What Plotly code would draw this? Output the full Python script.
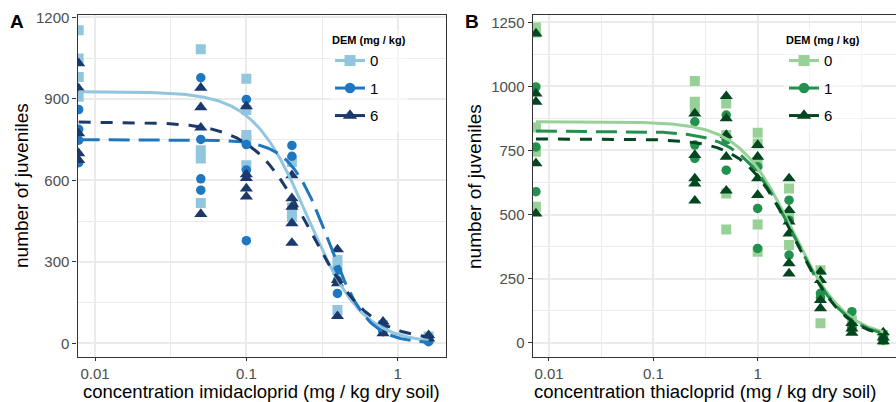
import numpy as np
import plotly.graph_objects as go

FONT = "Liberation Sans, Arial, Helvetica, sans-serif"

# ---------------- data ----------------
dem_levels = ["0", "1", "6"]

# Panel A: imidacloprid (mg/kg dry soil); first value = control, drawn at the left edge
imi_conc = [0.0078, 0.05, 0.1, 0.2, 0.4, 0.8, 1.6]
imi_dem0 = [[1153, 1049, 981, 908], [1083, 711, 681, 517], [974, 859, 767, 750, 656],
            [668, 500, 466], [307, 270, 123], [67, 60], [25, 15]]
imi_dem1 = [[861, 788, 748, 665], [978, 751, 606, 564], [898, 732, 638, 378],
            [729, 689], [270, 232, 184], [43, 55], [18, 6]]
imi_dem6 = [[1031, 938, 773, 700, 675], [941, 869, 794, 476], [873, 622, 608, 570, 540],
            [619, 534, 503, 442, 370], [346, 233, 221, 100], [80, 37], [30, 18]]

# Panel B: thiacloprid
thi_conc = [0.0075, 0.25, 0.5, 1, 2, 4, 8, 16]
thi_dem0 = [[1230, 1210, 840, 745, 530], [1021, 940, 915], [933, 810, 582, 442],
            [819, 777, 699, 461, 355], [602, 490, 381], [283, 76], [88, 60], [30, 10]]
thi_dem1 = [[998, 764, 589], [862, 771, 719], [888, 790, 673], [686, 524, 368],
            [556, 478, 342], [193, 176], [121, 60], [20, 10]]
thi_dem6 = [[1206, 972, 940, 700, 504], [894, 732, 641, 621, 554], [962, 875, 810, 725, 593],
            [771, 725, 641, 576], [641, 517, 472, 426, 310, 270], [277, 244, 166, 134],
            [76, 55, 38], [40, 20, 5]]

# fitted log-logistic dose-response curves (upper, lower, EC50, slope) per DEM level
imi_upper = [927, 750, 815]
imi_lower = [0, 0, 10]
imi_ec50 = [0.255, 0.35, 0.266]
imi_slope = [2.4, 3.4, 2.26]

thi_upper = [862, 826, 795]
thi_lower = [15, 12, 10]
thi_ec50 = [2.15, 2.2, 2.28]
thi_slope = [1.7, 1.75, 1.8]

# ---------------- style ----------------
blues = ["#92C5DE", "#1F78BF", "#1B3A6B"]
greens = ["#98D198", "#22914D", "#03461F"]
symbols = ["square", "circle", "triangle-up"]
msizes = [10, 9.5, 11.5]
dashes = ["solid", "21px,9px", "12px,10px"]


def expand(conc, groups):
    xs, ys = [], []
    for c, vals in zip(conc, groups):
        for v in vals:
            xs.append(c)
            ys.append(v)
    return xs, ys


def ll4(x, upper, lower, ec50, slope):
    return lower + (upper - lower) / (1 + np.exp(slope * (np.log(x) - np.log(ec50))))


fig = go.Figure()

panels = [
    dict(conc=imi_conc, groups=[imi_dem0, imi_dem1, imi_dem6], cols=blues,
         up=imi_upper, lo=imi_lower, e=imi_ec50, b=imi_slope, xa="x", ya="y", leg="legend"),
    dict(conc=thi_conc, groups=[thi_dem0, thi_dem1, thi_dem6], cols=greens,
         up=thi_upper, lo=thi_lower, e=thi_ec50, b=thi_slope, xa="x2", ya="y2", leg="legend2"),
]

for p in panels:
    for i, g in enumerate(p["groups"]):
        xs, ys = expand(p["conc"], g)
        fig.add_trace(go.Scatter(
            x=xs, y=ys, mode="markers", xaxis=p["xa"], yaxis=p["ya"],
            marker=dict(symbol=symbols[i], size=msizes[i], color=p["cols"][i], line=dict(width=0)),
            showlegend=False, hoverinfo="skip"))
    for i in range(3):
        xc = np.logspace(np.log10(p["conc"][0]), np.log10(p["conc"][-1]), 300)
        yc = ll4(xc, p["up"][i], p["lo"][i], p["e"][i], p["b"][i])
        fig.add_trace(go.Scatter(
            x=xc, y=yc, mode="lines", xaxis=p["xa"], yaxis=p["ya"],
            line=dict(color=p["cols"][i], width=3, dash=dashes[i]),
            showlegend=False, hoverinfo="skip"))
    for i in range(3):
        fig.add_trace(go.Scatter(
            x=[None], y=[None], mode="lines+markers", xaxis=p["xa"], yaxis=p["ya"],
            name=dem_levels[i], legend=p["leg"], legendgroup=dem_levels[i],
            line=dict(color=p["cols"][i], width=3),
            marker=dict(symbol=symbols[i], size=msizes[i] + 1, color=p["cols"][i], line=dict(width=0))))

W, H = 896, 402
grid = "#EBEBEB"
common = dict(showgrid=True, gridcolor=grid, gridwidth=2, showline=True, linecolor="#333333",
              linewidth=1.3, mirror=True, ticks="outside", ticklen=4, tickcolor="#333333",
              tickwidth=1, tickfont=dict(family=FONT, size=15, color="#4D4D4D"), zeroline=False,
              automargin=False)

ydom = [1 - 356.7 / H, 1 - 15 / H]
fig.update_layout(
    width=W, height=H, margin=dict(l=0, r=0, t=0, b=0, pad=0, autoexpand=False),
    paper_bgcolor="white", plot_bgcolor="white", font=dict(family=FONT),
    xaxis=dict(common, type="log", domain=[77.5 / W, 445.6 / W], range=[-2.1157, 0.3166],
               tickvals=[0.01, 0.1, 1], ticktext=["0.01", "0.1", "1"], ticklen=3,
               minor=dict(tickvals=[10 ** -1.5, 10 ** -0.5], showgrid=True, gridcolor=grid,
                          gridwidth=1, ticks="")),
    yaxis=dict(common, domain=ydom, range=[-49, 1209], tickvals=[0, 300, 600, 900, 1200],
               minor=dict(tickvals=[150, 450, 750, 1050], showgrid=True, gridcolor=grid,
                          gridwidth=1, ticks="")),
    xaxis2=dict(common, type="log", domain=[532.7 / W, 1.0], range=[-2.156, 1.326], anchor="y2",
                tickvals=[0.01, 0.1, 1], ticktext=["0.01", "0.1", "1"], ticklen=3,
                minor=dict(tickvals=[10 ** -1.5, 10 ** -0.5, 10 ** 0.5, 10], showgrid=True,
                           gridcolor=grid, gridwidth=1, ticks="")),
    yaxis2=dict(common, domain=ydom, range=[-54.6, 1278.5], anchor="x2",
                tickvals=[0, 250, 500, 750, 1000, 1250],
                minor=dict(tickvals=[125, 375, 625, 875, 1125], showgrid=True, gridcolor=grid,
                           gridwidth=1, ticks="")),
    legend=dict(x=330 / W, y=1 - 30 / H, xanchor="left", yanchor="top",
                bgcolor="rgba(255,255,255,0.5)", tracegroupgap=5, itemwidth=30,
                title=dict(text="<b>DEM (mg / kg)</b>", font=dict(family=FONT, size=11, color="black")),
                font=dict(family=FONT, size=15, color="black")),
    legend2=dict(x=784 / W, y=1 - 30 / H, xanchor="left", yanchor="top",
                 bgcolor="rgba(255,255,255,0.5)", tracegroupgap=5, itemwidth=30,
                 title=dict(text="<b>DEM (mg / kg)</b>", font=dict(family=FONT, size=11, color="black")),
                 font=dict(family=FONT, size=15, color="black")),
)

ann = [
    dict(text="<b>A</b>", x=17 / W, y=1 - 21.5 / H, font=dict(size=19)),
    dict(text="<b>B</b>", x=472 / W, y=1 - 21.5 / H, font=dict(size=19)),
    dict(text="number of juveniles", x=21 / W, y=1 - 186 / H, textangle=-90, font=dict(size=19)),
    dict(text="number of juveniles", x=474 / W, y=1 - 186 / H, textangle=-90, font=dict(size=19)),
    dict(text="concentration imidacloprid (mg / kg dry soil)", x=261.5 / W, y=1 - 391.5 / H,
         font=dict(size=18.5)),
    dict(text="concentration thiacloprid (mg / kg dry soil)", x=705 / W, y=1 - 391.5 / H,
         font=dict(size=18.5)),
]
for a in ann:
    fig.add_annotation(xref="paper", yref="paper", xanchor="center", yanchor="middle",
                       showarrow=False, **{k: v for k, v in a.items() if k != "font"},
                       font=dict(family=FONT, color="black", **a["font"]))

fig.write_html("out.html", config={"displayModeBar": False},
               post_script="document.body.style.margin='0';")
